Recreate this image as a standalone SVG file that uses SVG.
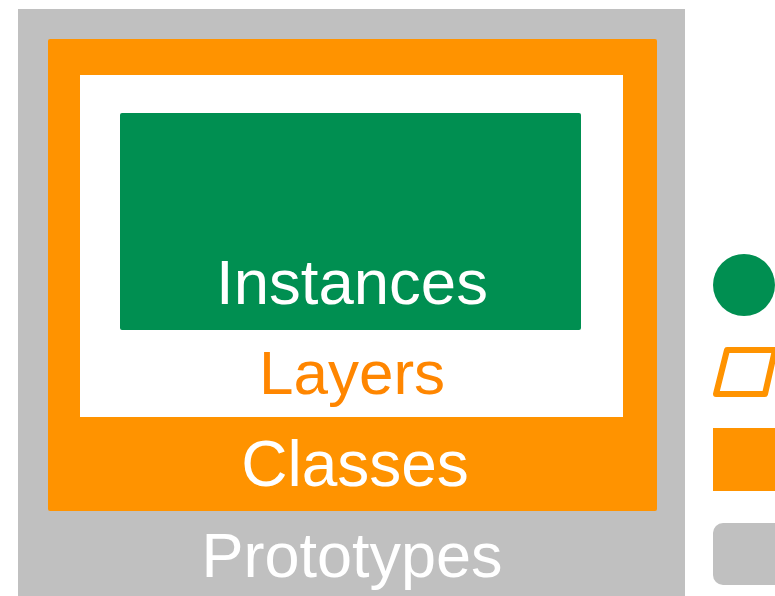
<svg xmlns="http://www.w3.org/2000/svg" width="775" height="596" viewBox="0 0 775 596">
<style>
text{font-family:"Liberation Sans",Arial,sans-serif;text-anchor:middle}
.w{fill:#ffffff}
.o{fill:#FF8600}
</style>
<rect width="775" height="596" fill="#ffffff"/>
<g id="prototypes">
<rect x="18" y="9" width="667" height="600" fill="#C0C0C0"/>
<text class="w" x="352" y="577" style="font-size:63px">Prototypes</text>
</g>
<g id="classes">
<rect x="48" y="39" width="609" height="472" rx="2" fill="#FF9300"/>
<text class="w" x="355" y="486" style="font-size:64px">Classes</text>
</g>
<g id="layers">
<rect x="80" y="75" width="543" height="342" fill="#ffffff"/>
<text class="o" x="352" y="394" style="font-size:62px">Layers</text>
</g>
<g id="instances">
<rect x="120" y="113" width="461" height="217" rx="2" fill="#008F51"/>
<text class="w" x="352" y="304" style="font-size:63.5px">Instances</text>
</g>
<g id="legend">
<circle cx="744" cy="285" r="31" fill="#008F51"/>
<path d="M727,350 L775,350 L765,394 L716,394 Z" fill="none" stroke="#FF9300" stroke-width="6" stroke-linejoin="round"/>
<rect x="713" y="428" width="70" height="63" fill="#FF9300"/>
<rect x="713" y="523" width="75" height="62" rx="10" fill="#C0C0C0"/>
</g>
</svg>
